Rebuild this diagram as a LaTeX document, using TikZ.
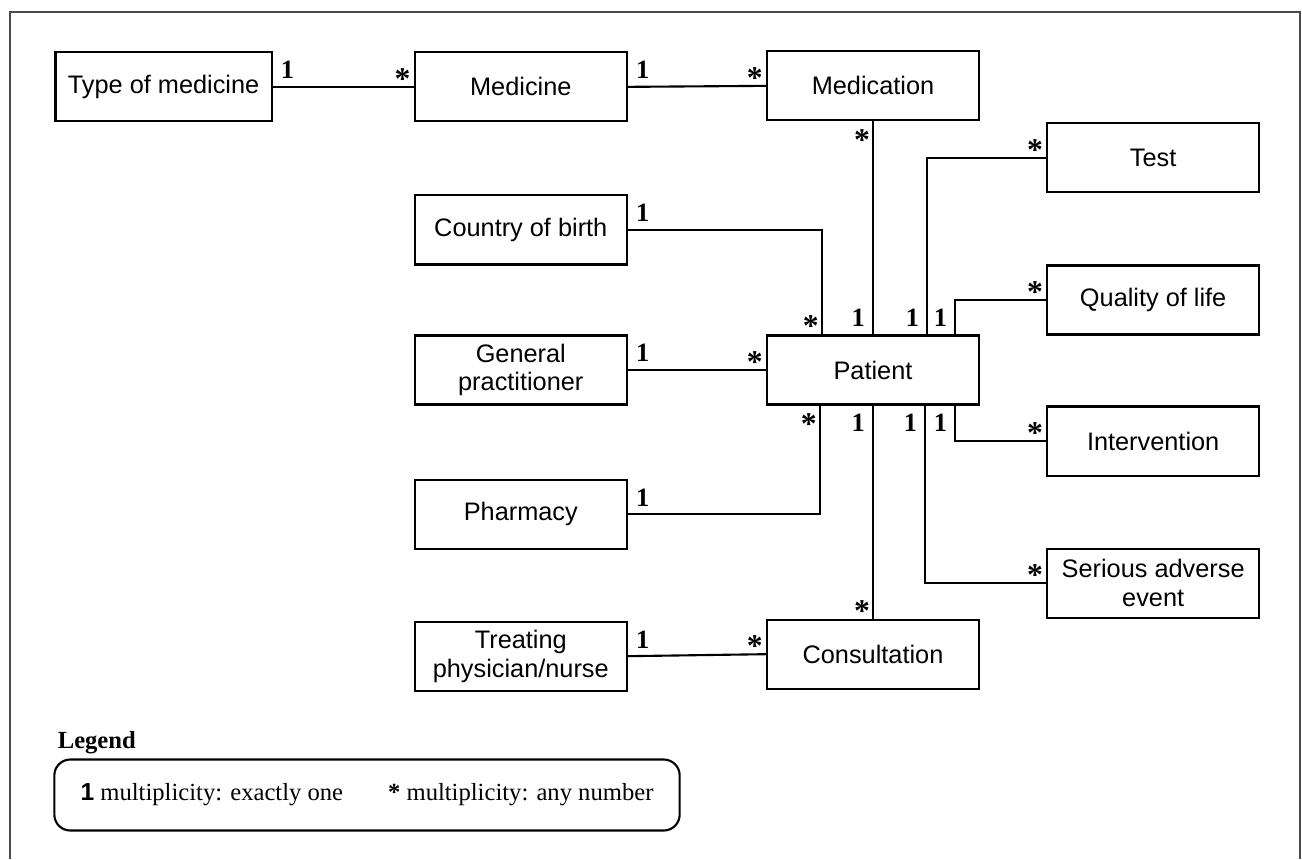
\documentclass[tikz,border=0pt]{standalone}
\usepackage{fontspec}
\setmainfont{Liberation Serif}
\setsansfont{Liberation Sans}
\usetikzlibrary{positioning}

\begin{document}
\begin{tikzpicture}[
		x=0.01cm, y=-0.01cm, line width=0.6pt, on grid,
		classbox/.style={rectangle,draw,minimum width=2.12cm,minimum height=0.69cm,
			align=center,inner sep=1pt,font=\sffamily\fontsize{7.2}{8.2}\selectfont},
		mult/.style={inner sep=2pt,font=\bfseries\fontsize{7.5}{9}\selectfont},
		mstar/.style={inner xsep=0.6pt,inner ysep=2pt,yshift=-3pt,font=\bfseries\fontsize{9}{9}\selectfont}
		]
		\useasboundingbox (0,0) rectangle (1302,859);
		\draw[line width=0.8pt, black!70] (10,859) -- (10,12) -- (1300,12) -- (1300,859);
		
		\node[classbox](P) at (873,370){Patient};
		\node[classbox, above=2.84cm of P](Mc){Medication};
		\node[classbox, below=2.84cm of P](C){Consultation};
		\node[classbox, left=3.52cm of P](GP){General\\practitioner};
		\node[classbox, above=1.40cm of GP](CB){Country of birth};
		\node[classbox, above=1.43cm of CB](Md){Medicine};
		\node[classbox, left=3.57cm of Md, minimum width=2.16cm](TM){Type of medicine};
		\node[classbox, below=1.44cm of GP](Ph){Pharmacy};
		\node[classbox, below=1.42cm of Ph](TP){Treating\\physician/nurse};
		\node[classbox, above right=0.70cm and 2.80cm of P](QL){Quality of life};
		\node[classbox, above=1.42cm of QL](T){Test};
		\node[classbox, below=1.41cm of QL](I){Intervention};
		\node[classbox, below=1.42cm of I](SA){Serious adverse\\event};
		
		\draw (TM.east) node[mult, above right]{1} -- (Md.west) node[mstar, above left]{*};
		\draw (Md.east) node[mult, above right]{1} -- (Mc.west) node[mstar, above left]{*};
		\draw (Mc.south) node[mstar, below left, yshift=3pt]{*} -- (P.north) node[mult, above left]{1};
		\draw (CB.east) node[mult, above right]{1} -| ([xshift=-0.51cm]P.north) node[mstar, above left]{*};
		\draw (GP.east) node[mult, above right]{1} -- (P.west) node[mstar, above left]{*};
		\draw (Ph.east) node[mult, above right]{1} -| ([xshift=-0.53cm]P.south) node[mstar, below left, yshift=3pt]{*};
		\draw (C.north) node[mstar, above left]{*} -- (P.south) node[mult, below left]{1};
		\draw (TP.east) node[mult, above right]{1} -- (C.west) node[mstar, above left]{*};
		\draw ([xshift=0.54cm]P.north) node[mult, above left]{1} |- (T.west) node[mstar, above left]{*};
		\draw ([xshift=0.82cm]P.north) node[mult, above left]{1} |- (QL.west) node[mstar, above left]{*};
		\draw ([xshift=0.82cm]P.south) node[mult, below left]{1} |- (I.west) node[mstar, above left]{*};
		\draw ([xshift=0.52cm]P.south) node[mult, below left]{1} |- (SA.west) node[mstar, above left]{*};
		
		% legend
		\node[draw, rounded corners=0.16cm, minimum width=6.25cm, minimum height=0.71cm,
		font=\fontsize{7}{8}\selectfont](L) at (367,795){{\sffamily\bfseries 1} multiplicity: exactly one\hspace{0.45cm}{\bfseries *} multiplicity: any number};
		\node[font=\bfseries\fontsize{7}{8}\selectfont, anchor=south west, inner sep=1pt](LT) at (L.north west){Legend};
		
	\end{tikzpicture}
\end{document}
